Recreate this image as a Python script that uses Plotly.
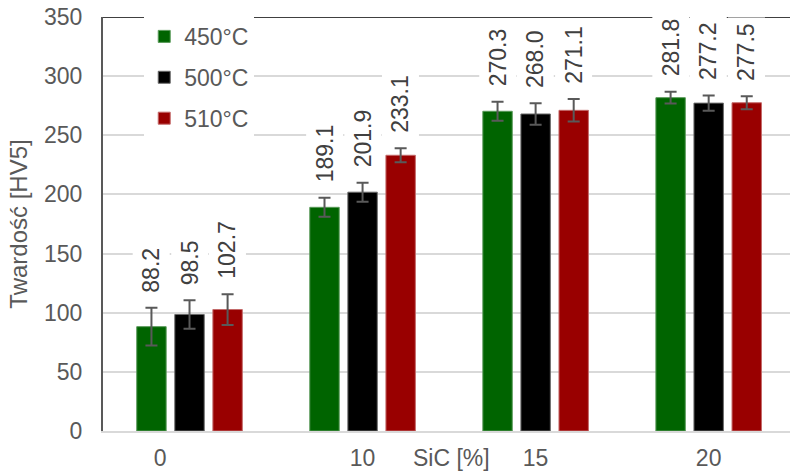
import plotly.graph_objects as go

# SiC content categories and hardness values (HV5) per temperature
sic = ["0", "10", "15", "20"]
series = ["450°C", "500°C", "510°C"]
hv_450 = [88.2, 189.1, 270.3, 281.8]
hv_500 = [98.5, 201.9, 268.0, 277.2]
hv_510 = [102.7, 233.1, 271.1, 277.5]
err_450 = [16, 8, 8, 5]
err_500 = [12, 8, 9, 6.5]
err_510 = [13, 6, 9.5, 5.5]

colors = ["#006400", "#000000", "#990000"]
edges = ["#5a9a5a", "#6a6a6a", "#c46a6a"]
offsets = [-0.22, 0, 0.22]
font = "Liberation Sans, Arial, sans-serif"
grey = "#595959"

fig = go.Figure()
for name, vals, errs, col, edge, off in zip(series, [hv_450, hv_500, hv_510],
                                            [err_450, err_500, err_510],
                                            colors, edges, offsets):
    xs = [i + off for i in range(len(sic))]
    fig.add_trace(go.Bar(x=xs, y=vals, width=0.17, name=name,
                         marker=dict(color=col, line=dict(color=edge, width=1)),
                         legendgroup=name,
                         error_y=dict(type="data", array=errs, color=grey,
                                      thickness=2, width=6)))
    for x, v, e in zip(xs, vals, errs):
        fig.add_annotation(x=x, y=v + e, text=f"{v:.1f}", textangle=-90,
                           showarrow=False, yanchor="bottom", yshift=9,
                           bgcolor="white", borderpad=5,
                           font=dict(family=font, size=23, color="#404040"))

# dark line along the top of the plot
fig.add_shape(type="line", xref="paper", x0=0, x1=1, yref="y", y0=350, y1=350,
              line=dict(color="#404040", width=2))

fig.add_annotation(text="SiC [%]", xref="paper", x=0.508, yref="paper", y=0,
                   yanchor="middle", yshift=-27, showarrow=False,
                   font=dict(family=font, size=23, color=grey))

fig.update_layout(
    width=790, height=473,
    margin=dict(l=103, r=0, t=17, b=42),
    barmode="overlay",
    plot_bgcolor="white", paper_bgcolor="white",
    font=dict(family=font, size=23, color=grey),
    legend=dict(x=0.06, y=1.005, xanchor="left", yanchor="top",
                bgcolor="white", tracegroupgap=8, traceorder="grouped",
                font=dict(size=23, color=grey)),
    xaxis=dict(range=[-0.5, 3.47], tickvals=[-0.17, 1, 2, 3], ticktext=sic,
               showgrid=False, zeroline=False, showline=True,
               linecolor="#d9d9d9", linewidth=2, ticks="",
               ticklabelstandoff=5, automargin=False),
    yaxis=dict(range=[0, 350], dtick=50, showgrid=True, gridcolor="#d9d9d9",
               gridwidth=1.5, zeroline=False, showline=True, linecolor=grey,
               linewidth=2, ticks="", ticklabelstandoff=14, automargin=False,
               title=dict(text="Twardość [HV5]", font=dict(size=24),
                          standoff=10)),
)

# drop the default page margin so the figure sits at the window's corner
fig.write_html("out.html", config={"displayModeBar": False},
               post_script="document.body.style.margin='0';")
